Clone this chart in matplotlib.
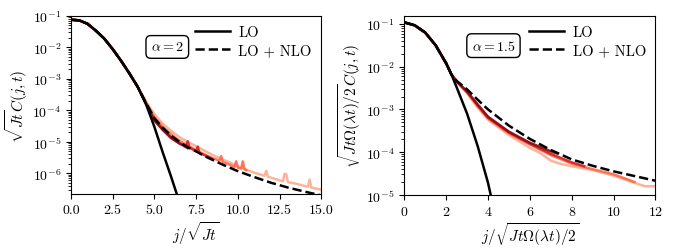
import numpy as np
import matplotlib
matplotlib.use("Agg")
import matplotlib.pyplot as plt
from matplotlib.ticker import LogLocator

plt.rcParams['font.family'] = 'serif'
plt.rcParams['font.serif'] = ['cmr10', 'DejaVu Serif']
plt.rcParams['mathtext.fontset'] = 'cm'
plt.rcParams['axes.formatter.use_mathtext'] = True
plt.rcParams['font.size'] = 10

# ---- left panel (alpha = 2), values as log10 ----
lo_x_a = [0, 0.5, 1, 1.5, 2, 2.5, 3, 3.5, 4, 4.5, 5, 5.5, 6, 6.4]
lo_y_a = [-1.12, -1.14, -1.25, -1.47, -1.72, -2.05, -2.42, -2.82, -3.25, -3.8, -4.52, -5.33, -6.1, -6.75]

nlo_x_a = [4.5, 5, 5.5, 6, 6.5, 7, 7.5, 8, 9, 10, 11, 12, 13, 14, 15]
nlo_y_a = [-3.76, -4.25, -4.55, -4.8, -5.0, -5.17, -5.3, -5.45, -5.7, -5.93, -6.12, -6.3, -6.45, -6.58, -6.7]

da1_x = [4.5, 5, 5.5, 6, 6.5, 7]
da1_y = [-3.8, -4.32, -4.62, -4.88, -5.05, -5.2]
da2_x = [4.5, 5, 5.5, 6, 6.5, 6.9, 7.0, 7.1, 7.5, 7.6, 7.7, 8, 8.5]
da2_y = [-3.78, -4.3, -4.6, -4.85, -5.05, -5.12, -4.98, -5.18, -5.3, -5.15, -5.35, -5.42, -5.55]
da3_x = [4.5, 5, 5.5, 6, 6.5, 7, 7.5, 8, 8.5, 8.9, 9.0, 9.1, 9.5, 9.8, 9.9, 10.0, 10.2, 10.3, 10.4, 10.5]
da3_y = [-3.75, -4.22, -4.52, -4.76, -4.96, -5.12, -5.26, -5.4, -5.52, -5.6, -5.45, -5.64,
         -5.72, -5.8, -5.62, -5.82, -5.85, -5.62, -5.87, -5.9]
da4_x = [4.5, 5, 5.5, 6, 6.5, 7, 7.5, 8, 8.5, 9, 9.5, 10, 10.5, 11, 11.6, 11.7, 11.8, 12,
         12.5, 12.7, 12.8, 12.9, 13.0, 13.5, 14, 14.2, 14.3, 14.4, 15]
da4_y = [-3.72, -4.12, -4.42, -4.65, -4.85, -5.0, -5.14, -5.28, -5.42, -5.54, -5.65, -5.78,
         -5.88, -5.98, -6.08, -5.92, -6.1, -6.14, -6.22, -6.25, -6.02, -6.02, -6.28, -6.33,
         -6.4, -6.42, -6.2, -6.45, -6.52]

# ---- right panel (alpha = 1.5) ----
lo_x_b = [0, 0.5, 1, 1.5, 2, 2.25, 2.5, 3, 3.5, 4, 4.15]
lo_y_b = [-0.96, -1.03, -1.2, -1.5, -1.92, -2.18, -2.48, -3.1, -3.85, -4.72, -5.05]

nlo_x_b = [2.5, 3, 3.5, 4, 5, 6, 7, 8, 9, 10, 11, 12]
nlo_y_b = [-2.33, -2.53, -2.77, -3.0, -3.38, -3.69, -3.95, -4.17, -4.32, -4.45, -4.56, -4.67]

db1_x = [2.5, 3, 3.5, 4, 5, 6, 7, 7.3]
db1_y = [-2.34, -2.58, -2.88, -3.17, -3.52, -3.78, -3.98, -4.03]
db2_x = [2.5, 3, 3.5, 4, 5, 6, 7, 8, 8.6]
db2_y = [-2.34, -2.59, -2.9, -3.19, -3.54, -3.8, -4.04, -4.24, -4.33]
db3_x = [2.5, 3, 3.5, 4, 5, 6, 7, 8, 9, 10, 11]
db3_y = [-2.35, -2.6, -2.92, -3.21, -3.56, -3.82, -4.07, -4.27, -4.4, -4.52, -4.7]
db4_x = [2.5, 3, 3.5, 4, 5, 6, 6.5, 7, 7.5, 8, 9, 10, 11, 11.5, 12]
db4_y = [-2.35, -2.62, -2.95, -3.24, -3.6, -3.9, -4.02, -4.2, -4.28, -4.33, -4.42, -4.55, -4.72, -4.8, -4.8]

shades = [plt.cm.Reds(0.92), plt.cm.Reds(0.72), plt.cm.Reds(0.5), plt.cm.Reds(0.3)]


def with_head(head_x, head_y, cut, xs, ys):
    # numerical curves coincide with LO before they split off
    hx = [x for x in head_x if x <= cut]
    hy = [y for x, y in zip(head_x, head_y) if x <= cut]
    return np.array(hx + xs), 10.0 ** np.array(hy + ys)


def panel(ax, lo_x, lo_y, cut, nlo_x, nlo_y, data, label_txt, xlim, ylim, xticks):
    # lightest first so the dark runs sit on top
    for (xs, ys), c in reversed(list(zip(data, shades))):
        x, y = with_head(lo_x, lo_y, cut, xs, ys)
        ax.plot(x, y, color=c, lw=1.8, alpha=0.9)
    ax.plot(lo_x, 10.0 ** np.array(lo_y), color='k', lw=1.8, label='LO')
    x, y = with_head(lo_x, lo_y, cut, nlo_x, nlo_y)
    ax.plot(x, y, color='k', lw=1.8, ls='--', label='LO + NLO')
    ax.set_yscale('log')
    ax.yaxis.set_major_locator(LogLocator(base=10, numticks=20))
    ax.yaxis.set_minor_locator(LogLocator(base=10, subs=np.arange(2, 10), numticks=20))
    ax.set_xlim(*xlim)
    ax.set_ylim(*ylim)
    ax.set_xticks(xticks)
    ax.tick_params(labelsize=10)
    ax.text(label_txt[1], label_txt[2], label_txt[0], transform=ax.transAxes,
            ha='center', va='center', fontsize=10,
            bbox=dict(boxstyle='round,pad=0.35', fc='white', ec='k', lw=1.0))
    ax.legend(loc='upper right', frameon=False, handlelength=2.4, fontsize=10.5,
              borderaxespad=0.25, labelspacing=0.3, handletextpad=0.6)


fig = plt.figure(figsize=(6.75, 2.53), dpi=100)
ax1 = fig.add_axes([0.105, 0.229, 0.371, 0.704])
ax2 = fig.add_axes([0.599, 0.226, 0.372, 0.707])

panel(ax1, lo_x_a, lo_y_a, 4.0, nlo_x_a, nlo_y_a,
      [(da1_x, da1_y), (da2_x, da2_y), (da3_x, da3_y), (da4_x, da4_y)],
      (r'$\alpha = 2$', 0.385, 0.826), (0, 15), (2.2e-7, 1e-1),
      [0, 2.5, 5, 7.5, 10, 12.5, 15])
ax1.set_xticklabels(['0.0', '2.5', '5.0', '7.5', '10.0', '12.5', '15.0'])
ax1.set_xlabel(r'$j/\sqrt{Jt}$', fontsize=11, labelpad=2)
ax1.set_ylabel(r'$\sqrt{Jt}C(j,t)$', fontsize=11, labelpad=2)

panel(ax2, lo_x_b, lo_y_b, 2.25, nlo_x_b, nlo_y_b,
      [(db1_x, db1_y), (db2_x, db2_y), (db3_x, db3_y), (db4_x, db4_y)],
      (r'$\alpha = 1.5$', 0.355, 0.834), (0, 12), (1e-5, 0.155),
      [0, 2, 4, 6, 8, 10, 12])
ax2.set_xlabel(r'$j/\sqrt{Jt\Omega(\lambda t)/2}$', fontsize=11, labelpad=2)
ax2.set_ylabel(r'$\sqrt{Jt\Omega(\lambda t)/2}C(j,t)$', fontsize=11, labelpad=2)

fig.savefig('out.png', dpi=100)
